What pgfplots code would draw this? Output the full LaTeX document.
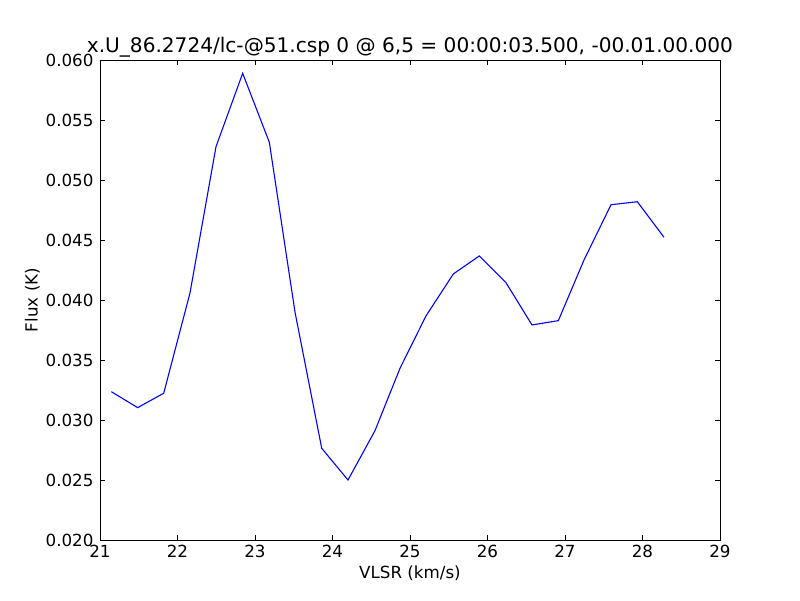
\documentclass[border=0pt]{standalone}
\usepackage{pgfplots}
\pgfplotsset{compat=1.18}
\usepackage{fontspec}
\setmainfont{DejaVu Sans}

\begin{document}
\begin{tikzpicture}[x=1pt,y=1pt]
\begin{axis}[
    at={(0pt,0pt)}, anchor=south west,
    scale only axis,
    width=620pt, height=480pt,
    xmin=21, xmax=29, ymin=0.020, ymax=0.060,
    xtick={21,...,29},
    ytick={0.020,0.025,...,0.0601},
    tick align=inside,
    major tick length=5.5pt,
    minor tick num=0,
    axis line style={line width=0.9pt},
    tick style={black, line width=0.7pt},
    /pgf/number format/assume math mode=true,
    yticklabel style={/pgf/number format/fixed, /pgf/number format/fixed zerofill, /pgf/number format/precision=3},
    scaled y ticks=false,
    ticklabel style={font=\fontsize{16.7}{20}\selectfont},
    xticklabel style={yshift=-2pt},
    yticklabel style={xshift=-3pt},
    xlabel={VLSR (km/s)},
    ylabel={Flux (K)},
    label style={font=\fontsize{16.7}{20}\selectfont},
    xlabel style={yshift=-1pt},
    ylabel style={yshift=-1pt},
    title={x.U\_86.2724/lc-@51.csp 0 @ 6,5 = 00:00:03.500, -00.01.00.000},
    title style={font=\fontsize{20.1}{24}\selectfont, yshift=-7pt},
]
\addplot[color={rgb,1:red,0;green,0;blue,1}, line width=1.1pt, mark=none] coordinates {
(21.146,0.03236) (21.486,0.03103) (21.822,0.03223) (22.161,0.04058)
(22.497,0.05278) (22.841,0.05889) (23.185,0.05314) (23.516,0.03900)
(23.861,0.02764) (24.200,0.02500) (24.548,0.02911) (24.871,0.03431)
(25.206,0.03867) (25.559,0.04217) (25.894,0.04367) (26.239,0.04144)
(26.574,0.03792) (26.914,0.03828) (27.245,0.04333) (27.594,0.04794)
(27.933,0.04819) (28.277,0.04523)
};
\end{axis}
\path[use as bounding box] (-100pt,-60pt) rectangle (700pt,540pt);
\end{tikzpicture}
\end{document}
